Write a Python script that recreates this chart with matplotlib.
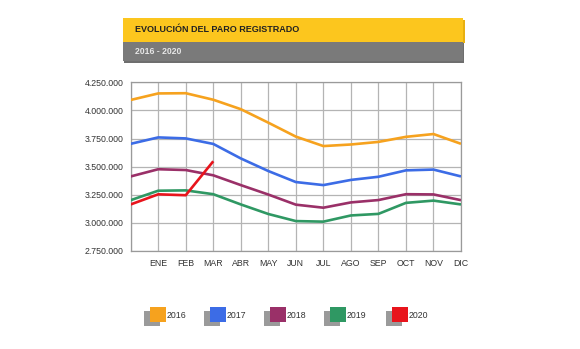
import matplotlib
matplotlib.use("Agg")
import matplotlib.pyplot as plt
from matplotlib.patches import Rectangle
from matplotlib.ticker import FuncFormatter

months = ["", "ENE", "FEB", "MAR", "ABR", "MAY", "JUN", "JUL", "AGO", "SEP", "OCT", "NOV", "DIC"]
years = ["2016", "2017", "2018", "2019", "2020"]
v2016 = [4093000, 4151000, 4153000, 4095000, 4011000, 3891000, 3767000, 3683000, 3697000, 3720000, 3765000, 3790000, 3703000]
v2017 = [3703000, 3760000, 3751000, 3702000, 3573000, 3461000, 3363000, 3336000, 3382000, 3410000, 3467000, 3474000, 3413000]
v2018 = [3413000, 3477000, 3470000, 3423000, 3336000, 3252000, 3162000, 3135000, 3182000, 3203000, 3255000, 3253000, 3202000]
v2019 = [3202000, 3286000, 3289000, 3255000, 3164000, 3079000, 3016000, 3011000, 3066000, 3080000, 3178000, 3198000, 3164000]
v2020 = [3164000, 3254000, 3246000, 3548000]
series = [v2016, v2017, v2018, v2019, v2020]
colors = ["#F6A21E", "#3C6CE6", "#9A3068", "#2F9863", "#E8141C"]
yticks = [2750000, 3000000, 3250000, 3500000, 3750000, 4000000, 4250000]

fig = plt.figure(figsize=(5.8, 3.49), dpi=100)
fig.patch.set_facecolor("white")

W, H = 580, 349
def fx(x): return x / W
def fy(y): return 1 - y / H

# Banner
fig.patches.append(Rectangle((fx(124), fy(62.5)), fx(463.5) - fx(124), fy(41.5) - fy(62.5),
                             transform=fig.transFigure, facecolor="#6e6e6e", edgecolor="none", zorder=0))
fig.patches.append(Rectangle((fx(122.5), fy(61)), fx(463) - fx(122.5), fy(41.5) - fy(61),
                             transform=fig.transFigure, facecolor="#7a7a7a", edgecolor="none", zorder=1))
fig.patches.append(Rectangle((fx(124), fy(42.5)), fx(464.5) - fx(124), fy(19.5) - fy(42.5),
                             transform=fig.transFigure, facecolor="#E8B010", edgecolor="none", zorder=0))
fig.patches.append(Rectangle((fx(122.5), fy(41.5)), fx(463) - fx(122.5), fy(18.3) - fy(41.5),
                             transform=fig.transFigure, facecolor="#FCC61E", edgecolor="none", zorder=1))
fig.text(fx(135), fy(30), "EVOLUCIÓN DEL PARO REGISTRADO", fontsize=6.5, fontweight="bold",
         color="#222222", va="center", ha="left", family="Liberation Sans")
fig.text(fx(135), fy(51.5), "2016 - 2020", fontsize=6.2, fontweight="bold",
         color="#e6e6e6", va="center", ha="left", family="Liberation Sans")

ax = fig.add_axes([130.7 / W, 1 - 251 / H, (461 - 130.7) / W, (251 - 82.3) / H])
x = list(range(len(months)))
for vals, c in zip(series, colors):
    ax.plot(x[:len(vals)], vals, color=c, lw=1.9, solid_capstyle="butt", zorder=3)

ax.set_xlim(0, len(months) - 1)
ax.set_ylim(yticks[0], yticks[-1])
ax.set_yticks(yticks)
ax.yaxis.set_major_formatter(FuncFormatter(lambda v, p: f"{int(v):,}".replace(",", ".")))
ax.set_xticks(x)
ax.set_xticklabels(months)
ax.grid(True, color="#b4b4b4", lw=0.9)
ax.set_axisbelow(True)
for s in ax.spines.values():
    s.set_color("#9a9a9a")
    s.set_linewidth(0.9)
ax.tick_params(length=0, labelsize=6.3, colors="#333333", pad=5)
ax.tick_params(axis="x", pad=6)
for lab in ax.get_xticklabels() + ax.get_yticklabels():
    lab.set_family("Liberation Sans")

# Legend
lx = [150, 210, 270, 330, 392]
for xx, c, yr in zip(lx, colors, years):
    fig.patches.append(Rectangle((fx(xx - 6), fy(326)), fx(16) - fx(0), fy(311) - fy(326),
                                 transform=fig.transFigure, facecolor="#9a9a9a", edgecolor="none"))
    fig.patches.append(Rectangle((fx(xx), fy(322)), fx(16) - fx(0), fy(307) - fy(322),
                                 transform=fig.transFigure, facecolor=c, edgecolor="none"))
    fig.text(fx(xx + 16.5), fy(315.5), yr, fontsize=6.3, color="#333333", va="center", ha="left",
             family="Liberation Sans")

fig.savefig("out.png", dpi=100)
